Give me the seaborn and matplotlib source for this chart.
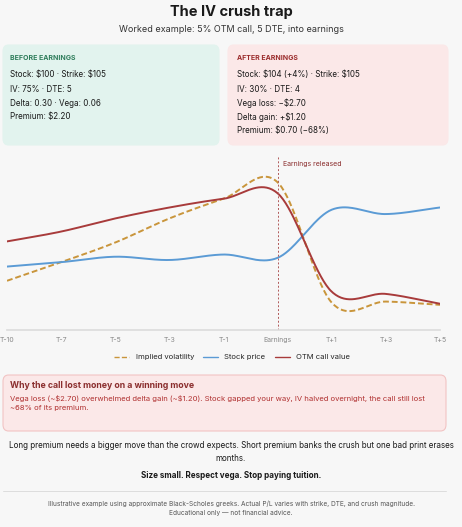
import numpy as np
import pandas as pd
import matplotlib
matplotlib.use("Agg")
import matplotlib.pyplot as plt
import seaborn as sns
from matplotlib.patches import FancyBboxPatch
from matplotlib.lines import Line2D

categories = ["T-10", "T-7", "T-5", "T-3", "T-1", "Earnings", "T+1", "T+3", "T+5"]
iv = [45, 62, 80, 102, 120, 135, 25, 26, 23]
stock = [58, 62, 67, 64, 69, 66, 110, 106, 112]
otm = [81, 90, 102, 112, 120, 125, 35, 33, 24]

sns.set_theme(style="white")
plt.rcParams["font.family"] = ["Inter", "DejaVu Sans"]
plt.rcParams["text.parse_math"] = False

W, H = 462, 527
fig = plt.figure(figsize=(W/100, H/100), dpi=100)
fig.patch.set_facecolor("#f7f7f7")

def fx(x): return x / W
def fy(y): return 1 - y / H

def box(x0, y0, x1, y1, fc, ec=None):
    p = FancyBboxPatch((fx(x0), fy(y1)), fx(x1 - x0), (y1 - y0) / H,
                       boxstyle="round,pad=0,rounding_size=0.012", transform=fig.transFigure,
                       fc=fc, ec=ec or fc, lw=0.8)
    fig.patches.append(p)

fig.text(0.5, fy(12), "The IV crush trap", ha="center", va="center", fontsize=10.5, fontweight="bold", color="#1a1a1a")
fig.text(0.5, fy(29), "Worked example: 5% OTM call, 5 DTE, into earnings", ha="center", va="center", fontsize=6.5, color="#333333")

box(3, 45, 219, 145, "#e2f3ee")
box(228, 45, 448, 145, "#fbe8e8")
fig.text(fx(10), fy(58), "BEFORE EARNINGS", fontsize=5, fontweight="bold", color="#2e7d5b", va="center")
for i, t in enumerate(["Stock: $100 · Strike: $105", "IV: 75% · DTE: 5", "Delta: 0.30 · Vega: 0.06", "Premium: $2.20"]):
    fig.text(fx(10), fy(75 + i * 14), t, fontsize=5.8, color="#1a1a1a", va="center")
fig.text(fx(237), fy(58), "AFTER EARNINGS", fontsize=5, fontweight="bold", color="#9b2c2c", va="center")
for i, t in enumerate(["Stock: $104 (+4%) · Strike: $105", "IV: 30% · DTE: 4", "Vega loss: −$2.70", "Delta gain: +$1.20", "Premium: $0.70 (−68%)"]):
    fig.text(fx(237), fy(75 + i * 14), t, fontsize=5.8, color="#1a1a1a", va="center")

ax = fig.add_axes([fx(7), fy(330), fx(433), (330 - 155) / H])
ax.set_facecolor("#f7f7f7")

xs = np.arange(len(categories))
def smooth(vals, n=40):
    v = np.array(vals, float)
    p = np.concatenate([[2*v[0]-v[1]], v, [2*v[-1]-v[-2]]])
    X, Y = [], []
    for i in range(len(v) - 1):
        t = np.linspace(0, 1, n, endpoint=False)
        p0, p1, p2, p3 = p[i], p[i+1], p[i+2], p[i+3]
        y = 0.5*((2*p1) + (-p0+p2)*t + (2*p0-5*p1+4*p2-p3)*t**2 + (-p0+3*p1-3*p2+p3)*t**3)
        X.extend(i + t); Y.extend(y)
    X.append(len(v) - 1); Y.append(v[-1])
    return np.array(X), np.array(Y)

series = [("Implied volatility", iv, "#c9953b", "--"), ("Stock price", stock, "#5b9bd5", "-"), ("OTM call value", otm, "#a83b3b", "-")]
rows = []
for name, vals, c, ls in series:
    X, Y = smooth(vals)
    rows.append(pd.DataFrame({"x": X, "y": Y, "s": name}))
df = pd.concat(rows)
sns.lineplot(data=df, x="x", y="y", hue="s", style="s", ax=ax,
             palette={n: c for n, _, c, _ in series},
             dashes={"Implied volatility": (3, 1.5), "Stock price": "", "OTM call value": ""},
             linewidth=1.4, legend=False)
ax.axvline(5, color="#b05a5a", ls=(0, (2, 2)), lw=0.7)
ax.text(5.1, 152, "Earnings released", fontsize=5, color="#8b2e2e", va="center")
ax.set_xlim(0, 8)
ax.set_ylim(0, 160)
ax.set_xticks(xs)
ax.set_xticklabels(categories, fontsize=5, color="#888888")
ax.set_yticks([])
ax.set_xlabel(""); ax.set_ylabel("")
for s in ["top", "right", "left"]:
    ax.spines[s].set_visible(False)
ax.spines["bottom"].set_color("#dddddd")
ax.tick_params(axis="x", length=0, pad=5)

handles = [Line2D([], [], color=c, ls=("--" if ls == "--" else "-"), lw=1) for _, _, c, ls in series]
fig.legend(handles, [n for n, *_ in series], loc="center", bbox_to_anchor=(fx(232), fy(357)), ncol=3,
           frameon=False, fontsize=5.5, handlelength=2, columnspacing=1.2)

box(3, 375, 446, 431, "#fbe8e8", "#f2c4c4")
fig.text(fx(10), fy(386), "Why the call lost money on a winning move", fontsize=6.3, fontweight="bold", color="#8b2e2e", va="center")
fig.text(fx(10), fy(403), "Vega loss (~$2.70) overwhelmed delta gain (~$1.20). Stock gapped your way, IV halved overnight, the call still lost\n~68% of its premium.",
         fontsize=5.5, color="#b03030", va="center", linespacing=1.5)

fig.text(0.5, fy(452), "Long premium needs a bigger move than the crowd expects. Short premium banks the crush but one bad print erases\nmonths.",
         ha="center", va="center", fontsize=5.8, color="#1a1a1a", linespacing=1.5)
fig.text(0.5, fy(475), "Size small. Respect vega. Stop paying tuition.", ha="center", va="center", fontsize=5.8, fontweight="bold", color="#1a1a1a")
fig.add_artist(Line2D([fx(3), fx(446)], [fy(491), fy(491)], color="#dddddd", lw=0.7, transform=fig.transFigure))
fig.text(0.5, fy(508), "Illustrative example using approximate Black-Scholes greeks. Actual P/L varies with strike, DTE, and crush magnitude.\nEducational only — not financial advice.",
         ha="center", va="center", fontsize=4.7, color="#555555", linespacing=1.5)

fig.savefig("out.png", dpi=100, facecolor=fig.get_facecolor())
